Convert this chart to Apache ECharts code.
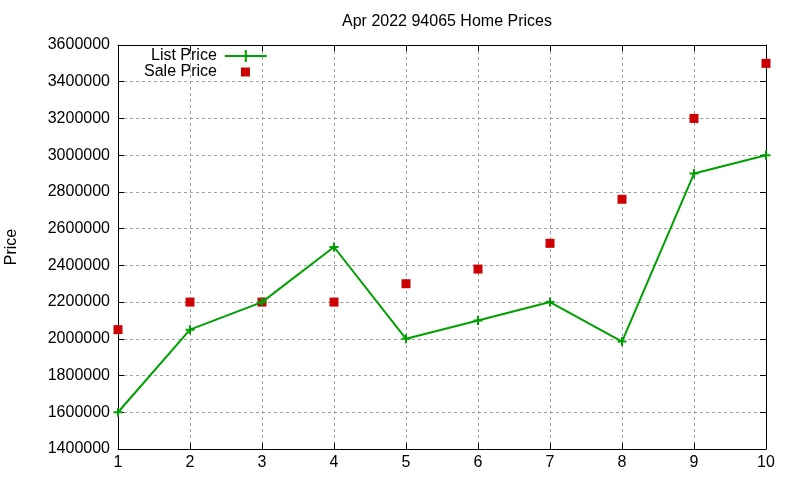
<!DOCTYPE html>
<html>
<head>
<meta charset="utf-8">
<script src="https://cdn.jsdelivr.net/npm/echarts@6/dist/echarts.min.js"></script>
<style>html,body{margin:0;padding:0;background:#fff}#c{width:800px;height:480px}</style>
</head>
<body>
<div id="c"></div>
<script>
const titleText = 'Apr 2022 94065 Home Prices';
const xValues = [1, 2, 3, 4, 5, 6, 7, 8, 9, 10];
const listPrice = [1600000, 2050000, 2200000, 2500000, 2000000, 2100000, 2200000, 1985000, 2900000, 3000000];
const salePrice = [2050000, 2200000, 2200000, 2200000, 2300000, 2380000, 2520000, 2760000, 3200000, 3500000];
const yMin = 1400000, yMax = 3600000, yStep = 200000;
const xMin = 1, xMax = 10, xStep = 1;

const FONT = '"Liberation Sans", Arial, sans-serif';
const green = '#00a000';
const red = '#cc0000';
const plusPath = 'path://M3.5,0 H5.5 V3.5 H9 V5.5 H5.5 V9 H3.5 V5.5 H0 V3.5 H3.5 Z';
const legendLinePath = 'path://M0,6 H42 V8 H0 Z M20,1 H22 V13 H20 Z';

const grid = {left: 118, right: 34, top: 45, bottom: 31, containLabel: false, outerBoundsMode: 'none'};
const gridLine = {show: true, lineStyle: {color: '#a0a0a0', type: [3, 3], width: 1}};
const axisLine = {show: true, onZero: false, lineStyle: {color: '#000', width: 1}};

const chart = echarts.init(document.getElementById('c'));
chart.setOption({
  animation: false,
  backgroundColor: '#fff',
  textStyle: {fontFamily: FONT},
  title: {
    text: titleText, left: 442, top: 9, textAlign: 'center',
    textStyle: {fontFamily: FONT, fontSize: 16, fontWeight: 'normal', color: '#000'}
  },
  legend: [
    {
      data: [{name: 'List Price', icon: legendLinePath}],
      orient: 'vertical', align: 'right', left: 151, top: 48, padding: 0,
      itemWidth: 42, itemHeight: 14, selectedMode: false,
      textStyle: {fontFamily: FONT, fontSize: 16, color: '#000', padding: [0, 3, 0, 0]}
    },
    {
      data: [{name: 'Sale Price', icon: 'rect'}],
      orient: 'vertical', align: 'right', left: 144, top: 64, padding: 0,
      itemWidth: 9, itemHeight: 9, selectedMode: false,
      textStyle: {fontFamily: FONT, fontSize: 16, color: '#000', padding: [0, 19, 0, 0]}
    }
  ],
  grid: grid,
  xAxis: [
    {
      type: 'value', min: xMin, max: xMax, interval: xStep, position: 'bottom',
      axisLine: axisLine,
      axisTick: {show: true, inside: true, length: 6, lineStyle: {color: '#000'}},
      axisLabel: {fontFamily: FONT, fontSize: 16, color: '#000', margin: 6, formatter: v => String(v)},
      splitLine: gridLine
    },
    {
      type: 'value', min: xMin, max: xMax, interval: xStep, position: 'top',
      axisLine: axisLine,
      axisTick: {show: true, inside: true, length: 6, lineStyle: {color: '#000'}},
      axisLabel: {show: false}, splitLine: {show: false}
    }
  ],
  yAxis: [
    {
      type: 'value', min: yMin, max: yMax, interval: yStep, position: 'left',
      name: 'Price', nameLocation: 'middle', nameGap: 98, nameRotate: 90,
      nameTextStyle: {fontFamily: FONT, fontSize: 16, color: '#000'},
      axisLine: axisLine,
      axisTick: {show: true, inside: true, length: 6, lineStyle: {color: '#000'}},
      axisLabel: {fontFamily: FONT, fontSize: 16, color: '#000', margin: 8, formatter: v => String(v)},
      splitLine: gridLine
    },
    {
      type: 'value', min: yMin, max: yMax, interval: yStep, position: 'right',
      axisLine: axisLine,
      axisTick: {show: true, inside: true, length: 6, lineStyle: {color: '#000'}},
      axisLabel: {show: false}, splitLine: {show: false}
    }
  ],
  series: [
    {
      name: 'List Price', type: 'line', xAxisIndex: 0, yAxisIndex: 0,
      data: xValues.map((x, i) => [x, listPrice[i]]),
      symbol: plusPath, symbolSize: 9, showSymbol: true,
      color: green,
      lineStyle: {color: green, width: 2},
      itemStyle: {color: green, opacity: 1}
    },
    {
      name: 'Sale Price', type: 'scatter', xAxisIndex: 0, yAxisIndex: 0,
      data: xValues.map((x, i) => [x, salePrice[i]]),
      symbol: 'rect', symbolSize: 9,
      color: red,
      itemStyle: {color: red, opacity: 1}
    }
  ]
});
</script>
</body>
</html>
